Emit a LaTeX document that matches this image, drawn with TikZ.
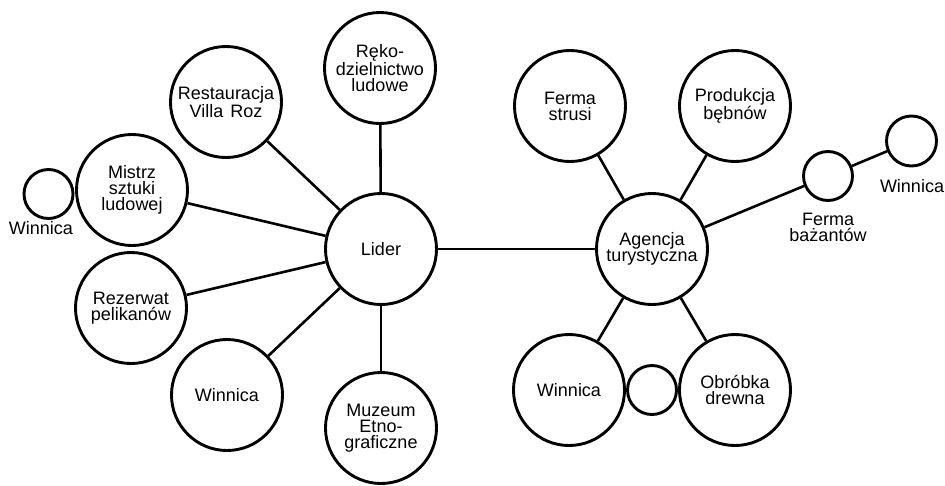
\documentclass[tikz,border=0pt]{standalone}
\usepackage{fontspec}
\setmainfont{Liberation Sans}
\begin{document}
\begin{tikzpicture}[x=1pt,y=-1pt,
  bubble/.style={circle,draw,line width=2.9pt,inner sep=0pt,minimum size=111pt,
    align=center,font=\fontsize{18}{16}\selectfont},
  dot/.style={circle,draw,line width=2.9pt,inner sep=0pt,minimum size=49pt},
  caption/.style={align=center,inner sep=0pt,font=\fontsize{18}{16}\selectfont},
  link/.style={line width=2.6pt}]
\useasboundingbox (0,0) rectangle (945,485);

% left cluster
\node[bubble] (lider) at (381,249) {Lider};
\node[bubble] (reko) at (380,68) {Ręko-\\dzielnictwo\\ludowe};
\node[bubble] (rest) at (226,102) {Restauracja\\Villa\hspace{7pt}Roz};
\node[bubble] (mistrz) at (132,190) {Mistrz\\sztuki\\ludowej};
\node[dot] (winSL) at (48.5,194) {};
\node[caption] (winSLt) at (41,228.5) {Winnica};
\node[bubble] (rez) at (131,308) {Rezerwat\\pelikanów};
\node[bubble] (winL) at (227,395) {Winnica};
\node[bubble] (muz) at (381,428) {Muzeum\\Etno-\\graficzne};

% right cluster
\node[bubble] (ag) at (652,249) {Agencja\\turystyczna};
\node[bubble] (strusi) at (570,106) {Ferma\\strusi};
\node[bubble] (beb) at (735,106) {Produkcja\\bębnów};
\node[dot] (baz) at (828,176) {};
\node[caption] (bazt) at (828,227) {Ferma\\bażantów};
\node[dot,minimum size=50pt] (winR) at (911.5,141) {};
\node[caption] (winRt) at (912,186) {Winnica};
\node[bubble] (winB) at (569,390) {Winnica};
\node[dot] (mid) at (652,390) {};
\node[bubble] (obr) at (735,390) {Obróbka\\drewna};

% connectors
\draw[link] (lider) -- (reko);
\draw[link] (lider) -- (rest);
\draw[link] (lider) -- (mistrz);
\draw[link] (lider) -- (rez);
\draw[link] (lider) -- (winL);
\draw[link] (lider) -- (muz);
\draw[link] (lider) -- (ag);
\draw[link] (ag) -- (strusi);
\draw[link] (ag) -- (beb);
\draw[link] (ag) -- (baz);
\draw[link] (baz) -- (winR);
\draw[link] (ag) -- (winB);
\draw[link] (ag) -- (obr);
\end{tikzpicture}
\end{document}
